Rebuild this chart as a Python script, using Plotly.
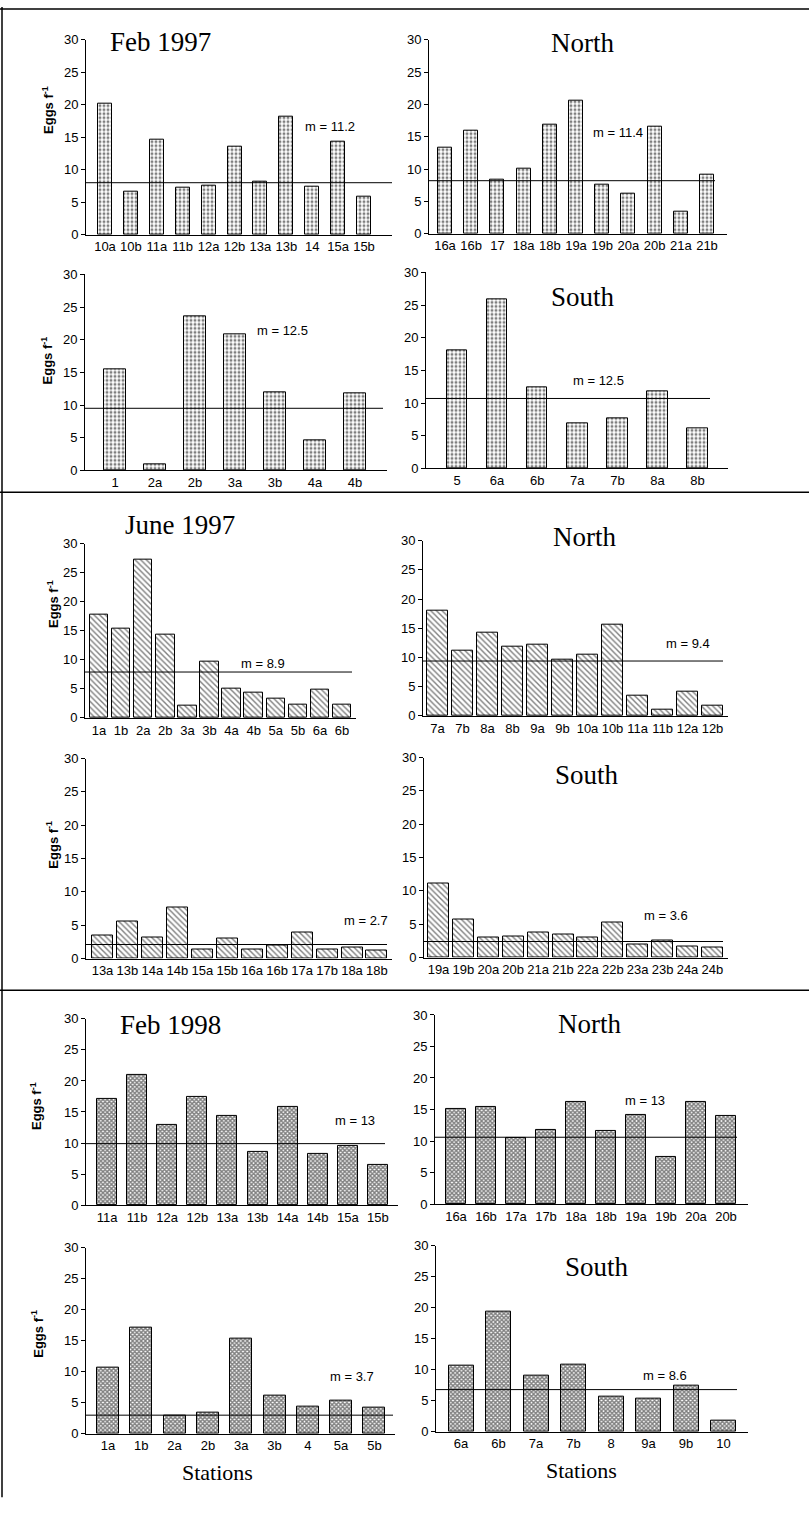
import plotly.graph_objects as go

W, H = 809, 1519

# ---------------- data ----------------
feb97_a_labels = ["10a", "10b", "11a", "11b", "12a", "12b", "13a", "13b", "14", "15a", "15b"]
feb97_a_values = [20.1, 6.6, 14.6, 7.2, 7.6, 13.6, 8.1, 18.1, 7.4, 14.3, 5.8]
feb97_a_line = 8.0
feb97_a_mean = "m = 11.2"

feb97_n_labels = ["16a", "16b", "17", "18a", "18b", "19a", "19b", "20a", "20b", "21a", "21b"]
feb97_n_values = [13.3, 15.9, 8.4, 10.1, 16.8, 20.5, 7.6, 6.2, 16.6, 3.4, 9.2]
feb97_n_line = 8.2
feb97_n_mean = "m = 11.4"

feb97_b_labels = ["1", "2a", "2b", "3a", "3b", "4a", "4b"]
feb97_b_values = [15.5, 1.0, 23.6, 20.8, 12.0, 4.55, 11.8]
feb97_b_line = 9.5
feb97_b_mean = "m = 12.5"

feb97_s_labels = ["5", "6a", "6b", "7a", "7b", "8a", "8b"]
feb97_s_values = [18.0, 25.8, 12.4, 6.9, 7.7, 11.8, 6.2]
feb97_s_line = 10.7
feb97_s_mean = "m = 12.5"

jun97_a_labels = ["1a", "1b", "2a", "2b", "3a", "3b", "4a", "4b", "5a", "5b", "6a", "6b"]
jun97_a_values = [17.8, 15.3, 27.3, 14.3, 2.1, 9.7, 5.0, 4.3, 3.4, 2.2, 4.9, 2.3]
jun97_a_line = 7.9
jun97_a_mean = "m = 8.9"

jun97_n_labels = ["7a", "7b", "8a", "8b", "9a", "9b", "10a", "10b", "11a", "11b", "12a", "12b"]
jun97_n_values = [18.0, 11.2, 14.3, 11.8, 12.2, 9.6, 10.5, 15.6, 3.5, 1.0, 4.2, 1.8]
jun97_n_line = 9.4
jun97_n_mean = "m = 9.4"

jun97_b_labels = ["13a", "13b", "14a", "14b", "15a", "15b", "16a", "16b", "17a", "17b", "18a", "18b"]
jun97_b_values = [3.4, 5.5, 3.2, 7.6, 1.3, 3.0, 1.4, 1.9, 3.9, 1.35, 1.6, 1.2]
jun97_b_line = 2.1
jun97_b_mean = "m = 2.7"

jun97_s_labels = ["19a", "19b", "20a", "20b", "21a", "21b", "22a", "22b", "23a", "23b", "24a", "24b"]
jun97_s_values = [11.1, 5.75, 3.0, 3.2, 3.8, 3.5, 3.0, 5.25, 2.0, 2.55, 1.6, 1.5]
jun97_s_line = 2.4
jun97_s_mean = "m = 3.6"

feb98_a_labels = ["11a", "11b", "12a", "12b", "13a", "13b", "14a", "14b", "15a", "15b"]
feb98_a_values = [17.1, 20.9, 12.9, 17.5, 14.35, 8.6, 15.8, 8.2, 9.6, 6.5]
feb98_a_line = 9.9
feb98_a_mean = "m = 13"

feb98_n_labels = ["16a", "16b", "17a", "17b", "18a", "18b", "19a", "19b", "20a", "20b"]
feb98_n_values = [15.1, 15.4, 10.5, 11.8, 16.2, 11.6, 14.2, 7.4, 16.2, 14.0]
feb98_n_line = 10.6
feb98_n_mean = "m = 13"

feb98_b_labels = ["1a", "1b", "2a", "2b", "3a", "3b", "4", "5a", "5b"]
feb98_b_values = [10.7, 17.1, 2.9, 3.4, 15.4, 6.2, 4.3, 5.3, 4.2]
feb98_b_line = 3.0
feb98_b_mean = "m = 3.7"

feb98_s_labels = ["6a", "6b", "7a", "7b", "8", "9a", "9b", "10"]
feb98_s_values = [10.6, 19.3, 9.0, 10.8, 5.6, 5.4, 7.5, 1.8]
feb98_s_line = 6.8
feb98_s_mean = "m = 8.6"

y_tick_values = [0, 5, 10, 15, 20, 25, 30]

# ---------------- styles ----------------
PAT = {
    "dot": dict(shape=".", size=4, solidity=0.45, fgcolor="black", bgcolor="white"),
    "hatch": dict(shape="\\", size=4, solidity=0.35, fgcolor="black", bgcolor="white"),
    "cross": dict(shape="x", size=3, solidity=0.7, fgcolor="black", bgcolor="white"),
}

SANS = "Liberation Sans, Arial, sans-serif"
SERIF = "Liberation Serif, Times New Roman, serif"

# pixel layout of each panel
panels = [
    dict(lab=feb97_a_labels, val=feb97_a_values, line=feb97_a_line, mean=feb97_a_mean, pat="dot",
         L=86, R=392, y0=230, y30=33, c0=105, s=25.9, w=14, E=392, mpos=(330, 121),
         title=("Feb 1997", 160, 35), ylab=(48, 104)),
    dict(lab=feb97_n_labels, val=feb97_n_values, line=feb97_n_line, mean=feb97_n_mean, pat="dot",
         L=429, R=727, y0=229, y30=33, c0=445, s=26.2, w=14, E=715, mpos=(618, 127),
         title=("North", 582, 36), ylab=None),
    dict(lab=feb97_b_labels, val=feb97_b_values, line=feb97_b_line, mean=feb97_b_mean, pat="dot",
         L=85, R=387, y0=468, y30=270, c0=115, s=40, w=21.5, E=383, mpos=(282, 327),
         title=None, ylab=(47, 357)),
    dict(lab=feb97_s_labels, val=feb97_s_values, line=feb97_s_line, mean=feb97_s_mean, pat="dot",
         L=426, R=728, y0=466, y30=268, c0=457, s=40.1, w=20.5, E=710, mpos=(598, 377),
         title=("South", 583, 293), ylab=None),
    dict(lab=jun97_a_labels, val=jun97_a_values, line=jun97_a_line, mean=jun97_a_mean, pat="hatch",
         L=85, R=356, y0=718, y30=542, c0=99, s=22.1, w=18.5, E=352, mpos=(263, 663),
         title=("June 1997", 180, 523), ylab=(53, 603)),
    dict(lab=jun97_n_labels, val=jun97_n_values, line=jun97_n_line, mean=jun97_n_mean, pat="hatch",
         L=423, R=728, y0=716, y30=539, c0=437.5, s=25, w=21, E=723, mpos=(688, 643),
         title=("North", 584, 535), ylab=None),
    dict(lab=jun97_b_labels, val=jun97_b_values, line=jun97_b_line, mean=jun97_b_mean, pat="hatch",
         L=86, R=392, y0=961, y30=759, c0=102.5, s=24.95, w=21, E=387, mpos=(366, 923),
         title=None, ylab=(52, 846)),
    dict(lab=jun97_s_labels, val=jun97_s_values, line=jun97_s_line, mean=jun97_s_mean, pat="hatch",
         L=424, R=728, y0=960, y30=758, c0=438.5, s=24.9, w=21, E=723, mpos=(666, 918),
         title=("South", 587, 776), ylab=None),
    dict(lab=feb98_a_labels, val=feb98_a_values, line=feb98_a_line, mean=feb98_a_mean, pat="cross",
         L=86, R=398, y0=1210, y30=1022, c0=107, s=30.1, w=20, E=385, mpos=(355, 1125),
         title=("Feb 1998", 170, 1028), ylab=(36, 1110)),
    dict(lab=feb98_n_labels, val=feb98_n_values, line=feb98_n_line, mean=feb98_n_mean, pat="cross",
         L=435, R=748, y0=1209, y30=1018, c0=456, s=30, w=20, E=737, mpos=(645, 1104),
         title=("North", 589, 1027), ylab=None),
    dict(lab=feb98_b_labels, val=feb98_b_values, line=feb98_b_line, mean=feb98_b_mean, pat="cross",
         L=86, R=395, y0=1441, y30=1253, c0=108, s=33.3, w=22, E=393, mpos=(352, 1383),
         title=None, ylab=(37, 1340)),
    dict(lab=feb98_s_labels, val=feb98_s_values, line=feb98_s_line, mean=feb98_s_mean, pat="cross",
         L=436, R=748, y0=1439, y30=1251, c0=461, s=37.5, w=25, E=737, mpos=(665, 1382),
         title=("South", 597, 1273), ylab=None),
]

stations_pos = [(217, 1480), (581, 1478)]


def px(x):
    return x / W


def py(y):
    return 1 - y / H


fig = go.Figure()
layout = dict(
    width=W, height=H, margin=dict(l=0, r=0, t=0, b=0),
    paper_bgcolor="white", plot_bgcolor="white", showlegend=False,
    bargap=0, annotations=[], shapes=[],
)

for k, p in enumerate(panels, start=1):
    xa = "x" if k == 1 else f"x{k}"
    ya = "y" if k == 1 else f"y{k}"
    xkey = "xaxis" if k == 1 else f"xaxis{k}"
    ykey = "yaxis" if k == 1 else f"yaxis{k}"

    fig.add_trace(go.Bar(
        x=p["lab"], y=p["val"], width=p["w"] / p["s"],
        xaxis=xa, yaxis=ya,
        marker=dict(color="white", line=dict(color="black", width=1), pattern=PAT[p["pat"]]),
    ))

    layout[xkey] = dict(
        domain=[px(p["L"]), px(p["R"])], anchor=ya, type="category",
        range=[(p["L"] - p["c0"]) / p["s"], (p["R"] - p["c0"]) / p["s"]],
        showline=True, linecolor="black", linewidth=1, ticks="", showgrid=False,
        tickmode="array", tickvals=p["lab"], ticktext=p["lab"], tickangle=0,
        tickfont=dict(family=SANS, size=13, color="black"), zeroline=False, fixedrange=True,
    )
    layout[ykey] = dict(
        domain=[py(p["y0"]), py(p["y30"])], anchor=xa, range=[0, 30], autorange=False,
        showline=True, linecolor="black", linewidth=1, ticks="outside", ticklen=4,
        tickcolor="black", tickvals=y_tick_values, showgrid=False, zeroline=False,
        tickfont=dict(family=SANS, size=13, color="black"), fixedrange=True,
    )

    layout["shapes"].append(dict(
        type="line", xref=f"{xa} domain", yref=ya,
        x0=0, x1=(p["E"] - p["L"]) / (p["R"] - p["L"]), y0=p["line"], y1=p["line"],
        line=dict(color="black", width=1),
    ))

    mx, my = p["mpos"]
    layout["annotations"].append(dict(
        x=px(mx), y=py(my), xref="paper", yref="paper", text=p["mean"], showarrow=False,
        xanchor="center", yanchor="middle", font=dict(family=SANS, size=13, color="black"),
    ))

    if p["title"]:
        t, tx, ty = p["title"]
        layout["annotations"].append(dict(
            x=px(tx), y=py(ty), xref="paper", yref="paper", text=t, showarrow=False,
            xanchor="center", yanchor="middle", font=dict(family=SERIF, size=27, color="black"),
        ))

    if p["ylab"]:
        lx, ly = p["ylab"]
        layout["annotations"].append(dict(
            x=px(lx), y=py(ly), xref="paper", yref="paper", text="<b>Eggs f<sup>-1</sup></b>",
            showarrow=False, textangle=-90, xanchor="center", yanchor="middle",
            font=dict(family=SANS, size=13, color="black"),
        ))

for sx, sy in stations_pos:
    layout["annotations"].append(dict(
        x=px(sx), y=py(sy), xref="paper", yref="paper", text="Stations", showarrow=False,
        xanchor="center", yanchor="middle", font=dict(family=SERIF, size=22, color="black"),
    ))

frame = [
    (0, 2, W, 2),
    (2, 0, 2, 1505),
    (0, 490, W, 490),
    (0, 993, W, 993),
]
for x0, y0, x1, y1 in frame:
    layout["shapes"].append(dict(
        type="line", xref="paper", yref="paper", x0=px(x0), y0=py(y0), x1=px(x1), y1=py(y1),
        line=dict(color="black", width=1.5),
    ))

fig.update_layout(**layout)

pin_script = (
    "document.body.style.margin='0';"
    "document.documentElement.style.overflow='hidden';"
    "document.body.style.overflow='hidden';"
    "var gd=document.getElementById('{plot_id}');"
    "gd.style.position='fixed';gd.style.top='0px';gd.style.left='0px';"
)
fig.write_html("out.html", config={"displayModeBar": False}, post_script=pin_script)
